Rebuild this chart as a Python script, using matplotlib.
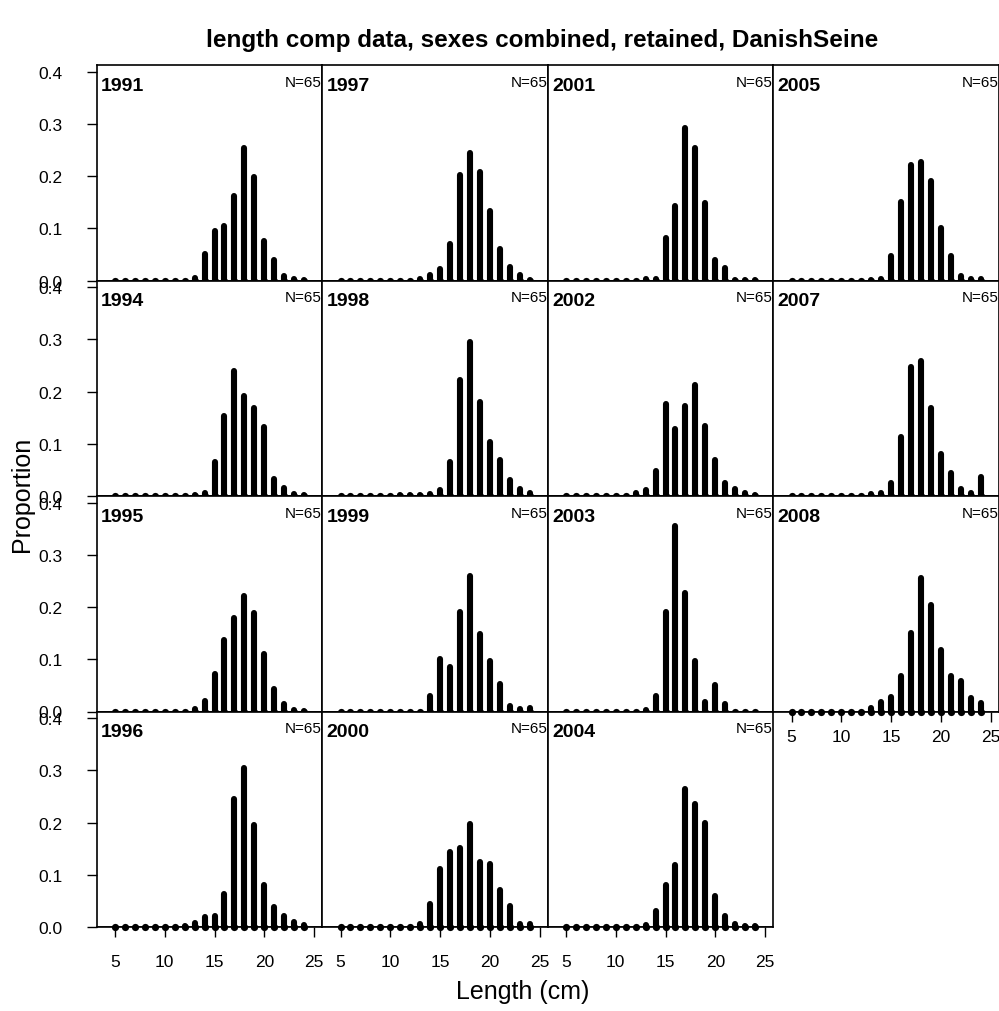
import numpy as np
import matplotlib
matplotlib.use("Agg")
import matplotlib.pyplot as plt

plt.rcParams['font.family'] = ['Liberation Sans', 'DejaVu Sans']

bins = list(range(5, 25))

years = ["1991", "1994", "1995", "1996",
         "1997", "1998", "1999", "2000",
         "2001", "2002", "2003", "2004",
         "2005", "2007", "2008"]

p1991 = [0,0,0,0,0,0,0,0,0.005,0.050,0.095,0.104,0.161,0.254,0.199,0.076,0.040,0.008,0.002,0.001]
p1994 = [0,0,0,0,0,0,0,0,0.001,0.006,0.066,0.154,0.240,0.192,0.168,0.132,0.033,0.015,0.003,0.001]
p1995 = [0,0,0,0,0,0,0,0,0.004,0.020,0.071,0.137,0.180,0.221,0.188,0.110,0.044,0.014,0.003,0.001]
p1996 = [0,0,0,0,0,0,0,0.001,0.008,0.019,0.022,0.064,0.245,0.305,0.196,0.081,0.038,0.022,0.010,0.003]
p1997 = [0,0,0,0,0,0,0,0,0.002,0.010,0.022,0.070,0.203,0.245,0.208,0.134,0.061,0.025,0.010,0.001]
p1998 = [0,0,0,0,0,0,0.002,0.001,0.001,0.003,0.011,0.065,0.222,0.296,0.180,0.104,0.069,0.030,0.013,0.006]
p1999 = [0,0,0,0,0,0,0,0,0,0.029,0.101,0.086,0.190,0.260,0.148,0.097,0.052,0.010,0.005,0.007]
p2000 = [0,0,0,0,0,0,0,0,0.005,0.045,0.112,0.143,0.152,0.197,0.125,0.120,0.070,0.040,0.006,0.006]
p2001 = [0,0,0,0,0,0,0,0,0.002,0.003,0.082,0.142,0.293,0.254,0.148,0.040,0.024,0.001,0.001,0.001]
p2002 = [0,0,0,0,0,0,0,0.006,0.012,0.048,0.177,0.129,0.173,0.212,0.135,0.069,0.025,0.013,0.006,0.001]
p2003 = [0,0,0,0,0,0,0,0,0.003,0.029,0.190,0.355,0.227,0.097,0.019,0.050,0.014,0,0,0]
p2004 = [0,0,0,0,0,0,0,0,0.003,0.030,0.080,0.118,0.265,0.236,0.200,0.060,0.022,0.005,0.002,0.001]
p2005 = [0,0,0,0,0,0,0,0,0.001,0.002,0.046,0.151,0.221,0.227,0.191,0.101,0.046,0.008,0.002,0.002]
p2007 = [0,0,0,0,0,0,0,0,0.003,0.006,0.025,0.114,0.248,0.258,0.168,0.081,0.045,0.013,0.006,0.036]
p2008 = [0,0,0,0,0,0,0,0,0.006,0.018,0.027,0.068,0.150,0.255,0.205,0.118,0.068,0.058,0.025,0.017]

props = [p1991, p1994, p1995, p1996, p1997, p1998, p1999, p2000,
         p2001, p2002, p2003, p2004, p2005, p2007, p2008]

n_label = "N=65"
yticks = [0.0, 0.1, 0.2, 0.3, 0.4]
ytick_labels = ["0.0", "0.1", "0.2", "0.3", "0.4"]
xticks = [5, 10, 15, 20, 25]

W, H = 999, 1012
fig = plt.figure(figsize=(W / 100, H / 100), dpi=100)

left0, colw = 96.5, 225.5
top0, rowh = 66.0, 215.5
nrows = 4

for i, (yr, vals) in enumerate(zip(years, props)):
    c = i // nrows
    r = i % nrows
    l = left0 + c * colw
    t = top0 + r * rowh
    ax = fig.add_axes([l / W, 1 - (t + rowh) / H, colw / W, rowh / H])
    ax.set_xlim(3.14, 25.8)
    ax.set_ylim(0, 0.413)
    lc = ax.vlines(bins, 0, vals, colors='black', linewidth=4.4, clip_on=False)
    lc.set_capstyle('round')
    ax.scatter(bins, [0] * len(bins), s=27, color='black', zorder=3, clip_on=False, linewidths=0)
    ax.axhline(0, color='black', linewidth=1.2)
    for sp in ax.spines.values():
        sp.set_linewidth(1.2)
    ax.text(0.02, 0.945, yr, transform=ax.transAxes, fontsize=14, fontweight='bold',
            ha='left', va='top')
    ax.text(1.0, 0.955, n_label, transform=ax.transAxes, fontsize=11,
            ha='right', va='top')
    if c == 0:
        ax.set_yticks(yticks)
        ax.set_yticklabels(ytick_labels)
        ax.tick_params(axis='y', direction='out', length=7.5, width=1, pad=17, labelsize=12.5)
    else:
        ax.set_yticks([])
    if r == nrows - 1:
        ax.set_xticks(xticks)
        ax.tick_params(axis='x', direction='out', length=7.5, width=1, pad=12, labelsize=12.5)
    elif i == len(years) - 1:
        ax.set_xticks(xticks)
        ax.tick_params(axis='x', direction='out', length=7.5, width=1, pad=5, labelsize=12.5)
    else:
        ax.set_xticks([])

fig.text(542 / W, 1 - 41 / H, "length comp data, sexes combined, retained, DanishSeine",
         ha='center', va='center', fontsize=17.5, fontweight='bold')
fig.text(523 / W, 1 - 992 / H, "Length (cm)", ha='center', va='center', fontsize=18)
fig.text(22 / W, 1 - 494 / H, "Proportion", ha='center', va='center', fontsize=18, rotation=90)

fig.savefig("out.png", dpi=100)
